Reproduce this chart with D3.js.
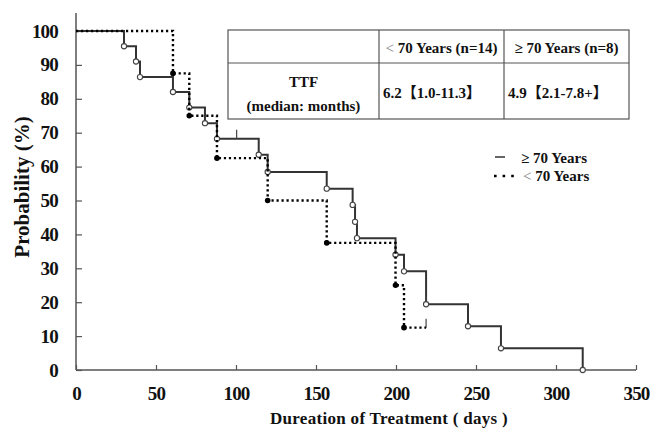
<!DOCTYPE html>
<html lang="en">
<head>
    <meta charset="UTF-8">
    <title>Time to Treatment Failure by Age</title>
    <script src="https://d3js.org/d3.v7.min.js"></script>
    <style>
        body { margin: 0; background: #fff; }
        svg text {
            font-family: "Liberation Serif", "Times New Roman", serif;
            font-weight: bold;
            fill: #111;
        }
        .tick text { font-size: 19px; letter-spacing: -0.8px; }
        .axis line { stroke: #555; stroke-width: 1.2; }
        .axis path { display: none; }
    </style>
</head>
<body>
<svg width="650" height="432"></svg>
<script>
    // Kaplan-Meier steps (days, probability %)
    const oldTimes = [0, 30, 37.5, 40, 60.6, 70.8, 80.6, 88.1, 114.2, 119.8, 156.7, 172.9, 174.4, 175.6, 199.7, 205, 218.8, 245, 265.6, 316.7];
    const oldProb  = [100, 95.5, 91.0, 86.4, 82.0, 77.4, 72.8, 68.2, 63.5, 58.4, 53.5, 48.7, 43.7, 38.9, 34.0, 29.1, 19.4, 12.9, 6.4, 0];
    const oldCensor = [100.4, 218.8];

    const youngTimes = [0, 60.6, 70.8, 88.1, 119.8, 156.7, 199.7, 205];
    const youngProb  = [100, 87.5, 75, 62.5, 50, 37.5, 25, 12.5];
    const youngCensor = [218.8];
    const youngEnd = 218.8;

    const xTicks = [0, 50, 100, 150, 200, 250, 300, 350];
    const yTicks = [0, 10, 20, 30, 40, 50, 60, 70, 80, 90, 100];

    const tableHead = ["< 70 Years (n=14)", "\u2265 70 Years (n=8)"];
    const tableRowLabel = ["TTF", "(median: months)"];
    const tableCells = ["6.2\u30101.0-11.3\u3011", "4.9\u30102.1-7.8+\u3011"];

    const svg = d3.select("svg");

    const x = d3.scaleLinear().domain([0, 350]).range([76, 636]);
    const y = d3.scaleLinear().domain([0, 100]).range([370, 31]);

    // axes
    svg.append("g")
       .attr("class", "axis")
       .attr("transform", `translate(0,${y(0)})`)
       .call(d3.axisBottom(x).tickValues(xTicks).tickSize(-5).tickSizeOuter(0).tickPadding(17));

    svg.append("g")
       .attr("class", "axis")
       .attr("transform", `translate(${x(0)},0)`)
       .call(d3.axisLeft(y).tickValues(yTicks).tickSize(-6).tickSizeOuter(0).tickPadding(18));

    svg.append("line")
       .attr("x1", x(0)).attr("x2", x(350))
       .attr("y1", y(0)).attr("y2", y(0))
       .attr("stroke", "#555").attr("stroke-width", 1.5);
    svg.append("line")
       .attr("x1", x(0)).attr("x2", x(0))
       .attr("y1", y(0)).attr("y2", y(105.3))
       .attr("stroke", "#555").attr("stroke-width", 1.5);

    // axis titles
    svg.append("text")
       .attr("x", 389).attr("y", 424)
       .attr("text-anchor", "middle")
       .style("font-size", "17px")
       .style("letter-spacing", "0.3px")
       .text("Dureation of Treatment ( days )");

    svg.append("text")
       .attr("transform", "translate(29,187) rotate(-90)")
       .attr("text-anchor", "middle")
       .style("font-size", "21px")
       .text("Probability (%)");

    const step = d3.line()
                   .x(d => x(d[0]))
                   .y(d => y(d[1]))
                   .curve(d3.curveStepAfter);

    function levelAt(times, probs, t) {
        const i = d3.bisectRight(times, t) - 1;
        return probs[Math.max(i, 0)];
    }

    // >= 70 years, solid
    const oldPts = oldTimes.map((t, i) => [t, oldProb[i]]);
    svg.append("path")
       .attr("d", step(oldPts))
       .attr("fill", "none")
       .attr("stroke", "#333")
       .attr("stroke-width", 2);

    // < 70 years, dotted
    const youngPts = youngTimes.map((t, i) => [t, youngProb[i]]);
    youngPts.push([youngEnd, youngProb[youngProb.length - 1]]);

    // censor marks
    const censors = oldCensor.map(t => [t, levelAt(oldTimes, oldProb, t)])
        .concat(youngCensor.map(t => [t, levelAt(youngTimes, youngProb, t)]));
    svg.selectAll(".censor")
       .data(censors)
       .enter().append("line")
       .attr("class", "censor")
       .attr("x1", d => x(d[0])).attr("x2", d => x(d[0]))
       .attr("y1", d => y(d[1])).attr("y2", d => y(d[1]) - 9)
       .attr("stroke", "#444").attr("stroke-width", 1.2);

    // open circles at events
    svg.selectAll(".open")
       .data(oldPts.slice(1))
       .enter().append("circle")
       .attr("class", "open")
       .attr("cx", d => x(d[0]))
       .attr("cy", d => y(d[1]))
       .attr("r", 2.6)
       .attr("fill", "#fff")
       .attr("stroke", "#444")
       .attr("stroke-width", 1.1);

    svg.append("path")
       .attr("d", step(youngPts))
       .attr("fill", "none")
       .attr("stroke", "#000")
       .attr("stroke-width", 2.4)
       .attr("stroke-dasharray", "2.2,2.8");

    svg.selectAll(".filled")
       .data(youngPts.slice(1, youngTimes.length))
       .enter().append("circle")
       .attr("class", "filled")
       .attr("cx", d => x(d[0]))
       .attr("cy", d => y(d[1]))
       .attr("r", 2.8)
       .attr("fill", "#000");

    // legend
    svg.append("line")
       .attr("x1", 495).attr("x2", 505).attr("y1", 157).attr("y2", 157)
       .attr("stroke", "#333").attr("stroke-width", 1.5);
    svg.append("line")
       .attr("x1", 494).attr("x2", 516).attr("y1", 176).attr("y2", 176)
       .attr("stroke", "#000").attr("stroke-width", 2.6)
       .attr("stroke-dasharray", "2.6,6");
    svg.append("text")
       .attr("x", 521).attr("y", 163)
       .style("font-size", "15px")
       .text("\u2265 70 Years");
    svg.append("text")
       .attr("x", 523).attr("y", 181)
       .style("font-size", "15px")
       .html('<tspan style="font-weight:normal;fill:#777">&lt;</tspan> 70 Years');

    // summary table
    const tb = { left: 228, top: 30, right: 629, bottom: 119, mid: 63, c1: 379, c2: 504 };
    const table = svg.append("g");
    table.append("rect")
         .attr("x", tb.left).attr("y", tb.top)
         .attr("width", tb.right - tb.left).attr("height", tb.bottom - tb.top)
         .attr("fill", "#fff").attr("stroke", "#555").attr("stroke-width", 1.2);
    [[tb.left, tb.mid, tb.right, tb.mid], [tb.c1, tb.top, tb.c1, tb.bottom], [tb.c2, tb.top, tb.c2, tb.bottom]]
        .forEach(l => table.append("line")
            .attr("x1", l[0]).attr("y1", l[1]).attr("x2", l[2]).attr("y2", l[3])
            .attr("stroke", "#555").attr("stroke-width", 1.2));

    table.append("text")
         .attr("x", (tb.c1 + tb.c2) / 2).attr("y", 53)
         .attr("text-anchor", "middle")
         .style("font-size", "15px")
         .html('<tspan style="font-weight:normal;fill:#777">&lt;</tspan>' + tableHead[0].slice(1));
    table.append("text")
         .attr("x", (tb.c2 + tb.right) / 2).attr("y", 53)
         .attr("text-anchor", "middle")
         .style("font-size", "15px")
         .text(tableHead[1]);

    table.selectAll(".rowlab")
         .data(tableRowLabel)
         .enter().append("text")
         .attr("x", (tb.left + tb.c1) / 2)
         .attr("y", (d, i) => 87 + i * 24)
         .attr("text-anchor", "middle")
         .style("font-size", "15px")
         .text(d => d);

    table.selectAll(".cell")
         .data(tableCells)
         .enter().append("text")
         .attr("x", (d, i) => (i === 0 ? tb.c1 : tb.c2) + 4)
         .attr("y", 98)
         .style("font-size", "15px")
         .style("font-family", '"Liberation Serif", "Noto Sans CJK JP", serif')
         .text(d => d);
</script>
</body>
</html>
